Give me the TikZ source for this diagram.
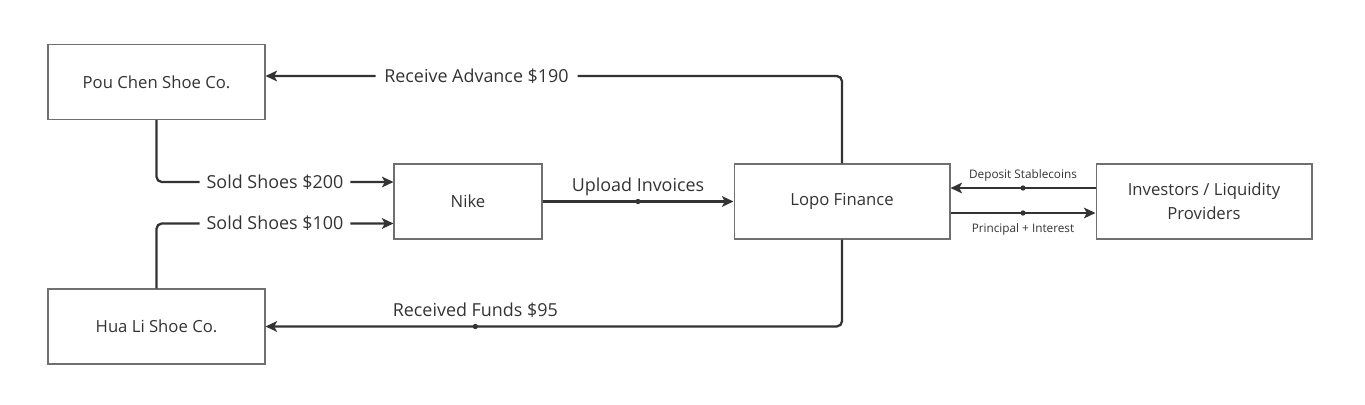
\documentclass[tikz,border=0pt]{standalone}
\usepackage{fontspec}
\setmainfont{Open Sans}
\usetikzlibrary{positioning}
\usetikzlibrary{calc}
\usetikzlibrary{arrows.meta}
\definecolor{ink}{HTML}{333333}
\definecolor{edge}{HTML}{707070}
\tikzset{every picture/.style={line width=1pt}}
\begin{document}
\begin{tikzpicture}[x=0.02cm,y=-0.02cm,
  box/.style={draw=edge,line width=0.6pt,minimum height=1.5cm,text=ink,font=\fontsize{9.5}{13.5}\selectfont,align=center},
  flow/.style={draw=ink,line width=1.3pt,rounded corners=3pt,-{Stealth[length=6.5pt,width=6pt,inset=1.5pt]}},
  lbl/.style={text=ink,font=\fontsize{10.2}{12}\selectfont},
  tiny/.style={text=ink,font=\fontsize{6.7}{8}\selectfont},
  dot/.style={circle,fill=ink,inner sep=0pt,minimum size=3pt}]
\useasboundingbox (0,0) rectangle (1365,405);
\node (pou) at (156.5,82) [box,minimum width=4.34cm] {Pou Chen Shoe Co.};
\node (hua) at (156.5,326.5) [box,minimum width=4.34cm] {Hua Li Shoe Co.};
\node (nike) at (468,201.5) [box,minimum width=2.96cm] {Nike};
\node (lopo) at (842,201.5) [box,minimum width=4.32cm] {Lopo Finance};
\node (inv) at (1204,201.5) [box,minimum width=4.32cm] {Investors / Liquidity\\Providers};
\draw[flow] (lopo.north) |- ([yshift=0.12cm]pou.east) node (adv) [lbl,fill=white,inner xsep=5pt,pos=0.817] {Receive Advance \$190};
\draw[flow] (pou.south) |- ([yshift=0.39cm]nike.west) node (sold1) [lbl,fill=white,inner xsep=4pt,pos=0.75] {Sold Shoes \$200};
\draw[flow] (hua.north) |- ([yshift=-0.44cm]nike.west) node (sold2) [lbl,fill=white,inner xsep=4pt,pos=0.75] {Sold Shoes \$100};
\draw[flow] (nike) -- (lopo) node (updot) [dot,pos=0.5] {} node (up) [lbl,above=-1pt,pos=0.5] {Upload Invoices};
\draw[flow] ([yshift=0.27cm]inv.west) -- ([yshift=0.27cm]lopo.east) node (depdot) [dot,pos=0.5] {} node (dep) [tiny,above=0pt,pos=0.5] {Deposit Stablecoins};
\draw[flow] ([yshift=-0.23cm]lopo.east) -- ([yshift=-0.23cm]inv.west) node (pidot) [dot,pos=0.5] {} node (pi) [tiny,below=2pt,pos=0.5] {Principal + Interest};
\draw[flow] (lopo.south) |- (hua.east) node (fundot) [dot,pos=0.818] {} node (fun) [lbl,above=1pt,pos=0.818] {Received Funds \$95};
\end{tikzpicture}
\end{document}
